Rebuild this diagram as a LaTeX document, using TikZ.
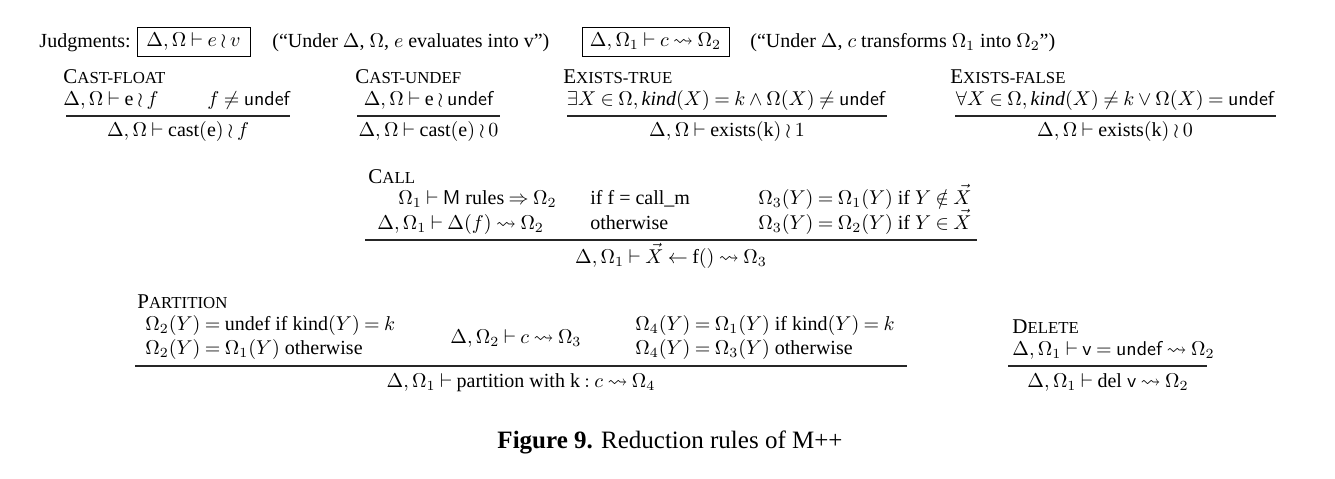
\documentclass[tikz,border=0pt]{standalone}
\usepackage{amsmath,amssymb}
\usepackage{fontspec}
\setmainfont{Liberation Serif}
\newcommand{\fsc}[2]{{\fontsize{10.5}{12}\selectfont #1}{\fontsize{8.4}{9}\selectfont #2}}
\thickmuskip=4mu plus 2mu
\medmuskip=3.5mu plus 1mu minus 2mu
\begin{document}
\begin{tikzpicture}[x=0.5pt,y=-0.5pt,
  txt/.style={inner sep=0pt,font=\fontsize{10}{12}\selectfont},
  lw/.style={txt,anchor=base west},
  lc/.style={txt,anchor=base},
  jbox/.style={txt,draw,line width=0.5pt,minimum height=14.5pt},
  rule/.style={line width=0.6pt,black!85}]
\useasboundingbox (0,0) rectangle (1335,478);
% judgments
\node[txt,anchor=base east] (jl) at (131,47) {Judgments:};
\node[jbox,minimum width=56.5pt] (j1) at (193.5,41.5) {$\Delta,\Omega\vdash e\wr v$};
\node[lw] (j1t) at (272,47) {(``Under $\Delta$, $\Omega$, $e$ evaluates into v'')};
\node[jbox,minimum width=73.5pt] (j2) at (655.5,41.5) {$\Delta,\Omega_1\vdash c\rightsquigarrow\Omega_2$};
\node[lw] (j2t) at (750,47) {(``Under $\Delta$, $c$ transforms $\Omega_1$ into $\Omega_2$'')};
% cast-float
\node[lw] (cfn) at (63,83) {\fsc{C}{AST-FLOAT}};
\node[lw] (cfp1) at (63,105) {$\Delta,\Omega\vdash\mathrm{e}\wr f$};
\node[lw] (cfp2) at (207,105) {$f\neq\mathsf{undef}$};
\draw[rule] (66,116) -- (290,116);
\node[lc] (cfc) at (178,136) {$\Delta,\Omega\vdash\mathrm{cast(e)}\wr f$};
% cast-undef
\node[lw] (cun) at (355,83) {\fsc{C}{AST-UNDEF}};
\node[lc] (cup) at (428.5,105) {$\Delta,\Omega\vdash\mathrm{e}\wr\mathsf{undef}$};
\draw[rule] (357,116) -- (500,116);
\node[lc] (cuc) at (428.5,136) {$\Delta,\Omega\vdash\mathrm{cast(e)}\wr 0$};
% exists-true
\node[lw] (etn) at (563,83) {\fsc{E}{XISTS-TRUE}};
\node[lc] (etp) at (726,105) {$\exists X\in\Omega,\mathit{kind}(X)=k\wedge\Omega(X)\neq\mathsf{undef}$};
\draw[rule] (567,116) -- (887,116);
\node[lc] (etc) at (727,136) {$\Delta,\Omega\vdash\mathrm{exists(k)}\wr 1$};
% exists-false
\node[lw] (efn) at (950,83) {\fsc{E}{XISTS-FALSE}};
\node[lc] (efp) at (1115,105) {$\forall X\in\Omega,\mathit{kind}(X)\neq k\vee\Omega(X)=\mathsf{undef}$};
\draw[rule] (955,116) -- (1276,116);
\node[lc] (efc) at (1115,136) {$\Delta,\Omega\vdash\mathrm{exists(k)}\wr 0$};
% call
\node[lw] (cln) at (368,183) {\fsc{C}{ALL}};
\node[lw] (clp1) at (398,204) {$\Omega_1\vdash\mathsf{M}\ \text{rules}\Rightarrow\Omega_2$};
\node[lw] (clp2) at (377,229) {$\Delta,\Omega_1\vdash\Delta(f)\rightsquigarrow\Omega_2$};
\node[lw] (clp3) at (590,204) {if f = call\_m};
\node[lw] (clp4) at (590,229) {otherwise};
\node[lw] (clp5) at (758,204) {$\Omega_3(Y)=\Omega_1(Y)\text{ if }Y\notin\vec{X}$};
\node[lw] (clp6) at (758,229) {$\Omega_3(Y)=\Omega_2(Y)\text{ if }Y\in\vec{X}$};
\draw[rule] (365,240) -- (977,240);
\node[lc] (clc) at (671,263) {$\Delta,\Omega_1\vdash\vec{X}\leftarrow\mathrm{f()}\rightsquigarrow\Omega_3$};
% partition
\node[lw] (ptn) at (137,308) {\fsc{P}{ARTITION}};
\node[lw] (ptp1) at (145,330) {$\Omega_2(Y)=\text{undef if kind}(Y)=k$};
\node[lw] (ptp2) at (145,354) {$\Omega_2(Y)=\Omega_1(Y)$ otherwise};
\node[lw] (ptp3) at (450,343) {$\Delta,\Omega_2\vdash c\rightsquigarrow\Omega_3$};
\node[lw] (ptp4) at (635,330) {$\Omega_4(Y)=\Omega_1(Y)\text{ if kind}(Y)=k$};
\node[lw] (ptp5) at (635,354) {$\Omega_4(Y)=\Omega_3(Y)$ otherwise};
\draw[rule] (135,366) -- (907,366);
\node[lc] (ptc) at (521,387) {$\Delta,\Omega_1\vdash\text{partition with k}:c\rightsquigarrow\Omega_4$};
% delete
\node[lw] (dln) at (1012,333) {\fsc{D}{ELETE}};
\node[lw] (dlp) at (1012,355) {$\Delta,\Omega_1\vdash\mathsf{v}=\mathsf{undef}\rightsquigarrow\Omega_2$};
\draw[rule] (1008,366) -- (1207,366);
\node[lc] (dlc) at (1108,387) {$\Delta,\Omega_1\vdash\text{del }\mathsf{v}\rightsquigarrow\Omega_2$};
% caption
\node[lc,font=\fontsize{12.5}{14}\selectfont] (cap) at (670,448) {\textbf{Figure 9.} Reduction rules of M++};
\end{tikzpicture}
\end{document}
